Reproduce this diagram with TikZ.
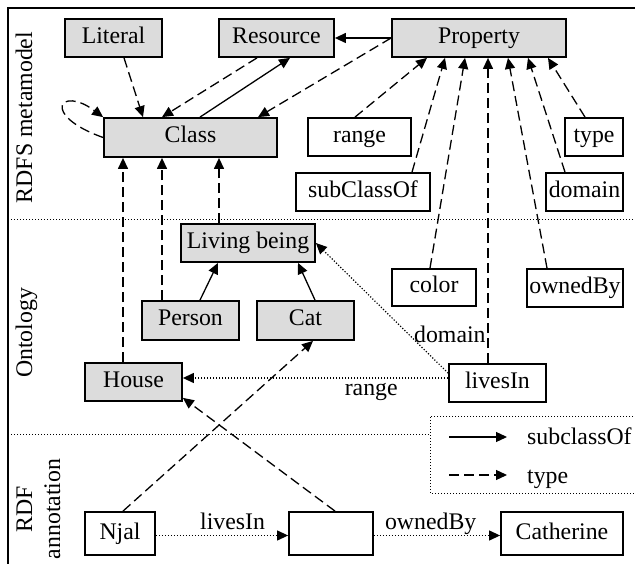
\documentclass[tikz,border=0pt]{standalone}
\usepackage{fontspec}
\setmainfont{Liberation Serif}
\usetikzlibrary{arrows.meta}
\definecolor{boxgray}{RGB}{220,220,220}
\begin{document}
\begin{tikzpicture}[x=1pt,y=-1pt,
  every node/.style={font=\fontsize{23.8}{28}\selectfont},
  box/.style={draw, line width=1.8pt, inner sep=0pt, text height=16pt, text depth=5pt, minimum height=38pt},
  gbox/.style={box, fill=boxgray},
  tip/.style={-{Triangle[length=11pt,width=10pt]}},
  subedge/.style={tip, line width=1.3pt},
  typeedge/.style={tip, line width=1.3pt, dash pattern=on 10pt off 5pt},
  reledge/.style={tip, line width=1.2pt, dash pattern=on 1.2pt off 1.8pt},
  sep/.style={line width=1pt, dash pattern=on 1pt off 2pt},
  frameline/.style={line width=1.8pt},
  lbl/.style={inner sep=0pt}]
\useasboundingbox (0,0) rectangle (635,564);

% frame and layer separators
\draw[frameline] (635,8) -- (8,8) -- (8,564);
\draw[sep] (8,220) -- (635,220);
\draw[sep] (8,434) -- (430,434);

% layer titles
\node[lbl, rotate=90, anchor=base] (lmeta) at (32,117.5) {RDFS metamodel};
\node[lbl, rotate=90, anchor=base] (lonto) at (32,333) {Ontology};
\node[lbl, rotate=90, anchor=base] (lrdf) at (32,509.5) {RDF};
\node[lbl, rotate=90, anchor=base] (lann) at (60,509) {annotation};

% RDFS metamodel
\node[gbox, minimum width=97pt] (literal) at (113.5,38) {Literal};
\node[gbox, minimum width=115pt] (resource) at (276.5,38) {Resource};
\node[gbox, minimum width=174pt] (property) at (479,38) {Property};
\node[gbox, minimum width=173pt, minimum height=39pt] (class) at (190.5,137.5) {Class};
\node[box, minimum width=103pt] (range) at (359.5,137) {range};
\node[box, minimum width=58pt] (type) at (594,137) {type};
\node[box, minimum width=134pt] (subclassof) at (363,192) {subClassOf};
\node[box, minimum width=77pt] (domain) at (584.5,192) {domain};

% ontology
\node[gbox, minimum width=134pt] (living) at (248,243) {Living being};
\node[box, minimum width=84pt, minimum height=37pt] (color) at (434,287.5) {color};
\node[box, minimum width=96pt] (ownedby) at (575,288) {ownedBy};
\node[gbox, minimum width=97pt, minimum height=39pt] (person) at (190.5,320.5) {Person};
\node[gbox, minimum width=97pt, minimum height=39pt] (cat) at (305.5,320.5) {Cat};
\node[gbox, minimum width=97pt] (house) at (133.5,382) {House};
\node[box, minimum width=97pt] (livesin) at (497.5,383) {livesIn};

% RDF annotation
\node[box, minimum width=70pt, minimum height=43pt] (njal) at (120,533.5) {Njal};
\node[box, minimum width=84pt, minimum height=43pt] (blank) at (331,533.5) {};
\node[box, minimum width=122pt, minimum height=43pt] (catherine) at (562,533.5) {Catherine};

% metamodel edges
\draw[typeedge] ([xshift=10.5pt]literal.south) -- ([xshift=-47.5pt]class.north);
\draw[typeedge] ([xshift=-19.5pt]resource.south) -- ([xshift=-28.5pt]class.north);
\draw[subedge] ([xshift=9.5pt]class.north) -- ([xshift=13.5pt]resource.south);
\draw[subedge] (property.west) -- (resource.east);
\draw[typeedge] (property.west) -- ([xshift=67.5pt]class.north);
\draw[typeedge] (class.west) .. controls (40,115) and (60,85) .. (class.north west);
\draw[typeedge] ([xshift=-4.5pt]range.north) -- ([xshift=-52pt]property.south);
\draw[typeedge] ([xshift=49pt]subclassof.north) -- ([xshift=-34pt]property.south);
\draw[typeedge] ([xshift=-4pt]color.north) -- ([xshift=-14pt]property.south);
\draw[typeedge] ([xshift=-9.5pt]livesin.north) -- ([xshift=9pt]property.south);
\draw[typeedge] ([xshift=-28pt]ownedby.north) -- ([xshift=29pt]property.south);
\draw[typeedge] ([xshift=-19.5pt]domain.north) -- ([xshift=49pt]property.south);
\draw[typeedge] ([xshift=-9pt]type.north) -- ([xshift=69pt]property.south);

% ontology edges
\draw[typeedge] ([xshift=-10.5pt]house.north) -- ([xshift=-67.5pt]class.south);
\draw[typeedge] ([xshift=-28.5pt]person.north) -- ([xshift=-28.5pt]class.south);
\draw[typeedge] ([xshift=-29pt]living.north) -- ([xshift=28.5pt]class.south);
\draw[subedge] ([xshift=9.5pt]person.north) -- ([xshift=-30pt]living.south);
\draw[subedge] ([xshift=9.5pt]cat.north) -- ([xshift=50pt]living.south);
\draw[reledge] ([yshift=-10pt]livesin.north west) -- node[lbl, pos=0.28, anchor=base west, xshift=2.5pt, yshift=-5.7pt] (ldomain) {domain} (living.east);
\draw[reledge] ([yshift=5pt]livesin.west) -- node[lbl, pos=0.29, anchor=base, yshift=-17pt] (lrange) {range} ([yshift=4pt]house.east);

% annotation edges
\draw[typeedge] ([xshift=3pt]njal.north) -- ([xshift=7.5pt]cat.south);
\draw[typeedge] ([xshift=4pt]blank.north) -- ([yshift=4pt]house.south east);
\draw[reledge] ([yshift=-2pt]njal.east) -- node[lbl, pos=0.58, anchor=base, yshift=6.5pt] (llives) {livesIn} ([yshift=-2pt]blank.west);
\draw[reledge] ([yshift=-2pt]blank.east) -- node[lbl, pos=0.45, anchor=base, yshift=6.5pt] (lowned) {ownedBy} ([yshift=-2pt]catherine.west);

% legend
\draw[sep] (636,416) -| (430,493) -- (636,493);
\coordinate (lsa) at (449,437);
\coordinate (lsb) at (507,437);
\coordinate (lta) at (449,475);
\coordinate (ltb) at (507,475);
\draw[subedge] (lsa) -- (lsb);
\draw[typeedge] (lta) -- (ltb);
\node[lbl, anchor=base west] (lsub) at (527,444) {subclassOf};
\node[lbl, anchor=base west] (ltype) at (527,483) {type};
\end{tikzpicture}
\end{document}
